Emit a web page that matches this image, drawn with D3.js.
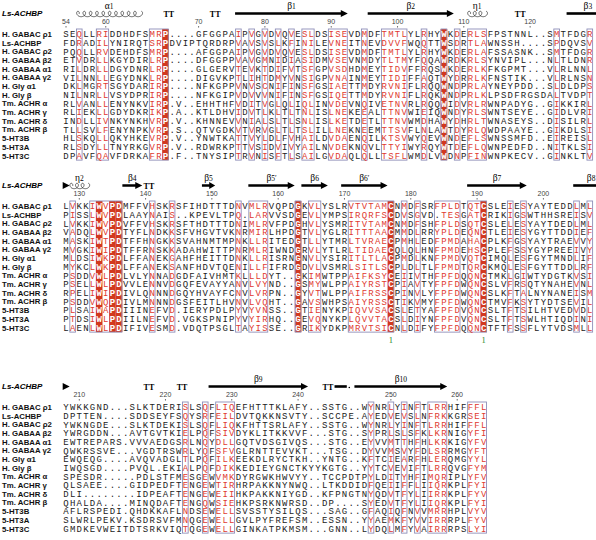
<!DOCTYPE html>
<html><head><meta charset="utf-8">
<script src="https://cdn.jsdelivr.net/npm/d3@7"></script>
<style>body{margin:0;background:#fff}</style></head>
<body><svg id="c" width="596" height="540"></svg>
<script>
const names = ["H. GABAC ρ1","Ls-ACHBP","H. GABAC ρ2","H. GABAA β2","H. GABAA α1","H. GABAA γ2","H. Gly α1","H. Gly β","Tm. ACHR α","Tm. ACHR γ","Tm. ACHR δ","Tm. ACHR β","5-HT3B","5-HT3A","5-HT3C"];
const headerName = "Ls-ACHBP";

const seq1 = [
"SEQLLRIDDHDFSMRP....GFGGPAIPVGVDVQVESLDSISEVDMDFTMTLYLRHYWKDERLSFPSTNNL..SMTFDGR",
"FDRADILYNIRQTSRPDVIPTQRDRPVAVSVSLKFINILEVNEITNEVDVVFWQQTTWSDRTLAWNSSH....SPDQVSV",
"PQQLLRVDEHDFSMRP....AFGGPAIPVGVDVQVESLDSISEVDMDFTMTLYLRHYWKDERLAFSSASNK..SMTFDGR",
"ETVDRLLKGYDIRLRP....DFGGPPVAVGMNIDIASIDMVSEVNMDYTLTMYFQQAWRDKRLSYNVIPL...NLTLDNR",
"RILDRLLDGYDNRLRP....GLGERVTEVKTDIFVTSFGPVSDHDMEYTIDVFFRQSWKDERLKFKGPMT...VLRLNNL",
"VILNNLLEGYDNKLRP....DIGVKPTLIHTDMYVNSIGPVNAINMEYTIDIFFAQTWYDRRLKFNSTIK...VLRLNSN",
"DKLMGRTSGYDARIRP....NFKGPPVNVSCNIFINSFGSIAETTMDYRVNIFLRQQWNDPRLAYNEYPDD..SLDLDPS",
"NILNRLLVSYDPRIRP....NFKGIPVDVVVNIFINSFGSIQETTMDYRVNIFLRQKWNDPRLKLPSDFRGSDALTVDPT",
"RLVANLLENYNKVIRP.V..EHHTHFVDITVGLQLIQLINVDEVNQIVETNVRLRQQWIDVRLRWNPADYG..GIKKIRL",
"RLIEKLLGDYDKRIKP.A..KTLDHVIDVTLKLTLTNLISLNEKEEALTTNVWIEIQWNDYRLSWNTSEYE..GIDLVRI",
"INDLLIVNKYNKHVRP.V..KHNNEVVNIALSLTLSNLISLKETDETLTTNVWMDHAWYDHRLTWNASEYS..DISILRL",
"TLLSVLFENYNPKVRP.S..QTVGDKVTVRVGLTLTSLILLNEKNEEMTTSVFLNLAWTDYRLQWDPAAYE..GIKDLSI",
"HLSKQLLQKYHKEVRP.V..YNWTKATTVYLDLFVHAILDVDAENQILKTSVWYQEVWNDEFLSWNSSMFD..EIREISL",
"RLSDYLLTNYRKGVRP.V..RDWRKPTTVSIDVIVYAILNVDEKNQVLTTYIWYRQYWTDEFLQWNPEDFD..NITKLSI",
"DPAVFQAVFDRKAFRP.F..TNYSIPTRVNISFTLSAILGVDAQLQLLTSFLWMDLVWDNPFINWNPKECV..GINKLTV"];
const seq2 = [
"LVKKIWVPDMFFVHSKRSFIHDTTTDNVMLRVQPDGKVLYSLRVTVTAMCNMDFSRFPLDTQTCSLEIESYAYTEDDLML",
"PISSLWVPDLAAYNAIS..KPEVLTPQ.LARVVSDGEVLYMPSIRQRFSCDVSGVD.TESGATCRIKIGSWTHHSREISV",
"LVKKIWVPDVFFVHSKRSFTHDTTTDNIMLRVFPDGHVLYSMRITVTAMCNMDFSHFPLDSQTCSLELESYAYTDEDLML",
"VADQLWVPDTYFLNDKKSFVHGVTVKNRMIRLHPDGTVLYGLRITTTAACMMDLRRYPLDEQNCTLEIESYGYTTDDIEF",
"MASKIWTPDTFFHNGKKSVAHNMTMPNKLLRITEDGTLLYTMRLTVRAECPMHLEDFPMDAHACPLKFGSYAYTRAEVVY",
"MVGKIWIPDTFFRNSKKADAHWITTPNRMLRIWNDGRVLYTLRLTIDAECQLQLHNFPMDEHSCPLEFSSYGYPREEIVY",
"MLDSIWKPDLFFANEKGAHFHEITTDNKLLRISRNGNVLYSIRITLTLACPMDLKNFPMDVQTCIMQLESFGYTMNDLIF",
"MYKCLWKPDLFFANEKSANFHDVTQENILLFIFRDGDVLVSMRLSITLSCPLDLTLFPMDTQRCKMQLESFGYTTDDLRF",
"PSDDVWLPDLVLYNNADGDFAIVHMTKLLLDYT..GKIMWTPPAIFKSYCEIIVTHFPFDQQNCTMKLGIWTYDGTKVSI",
"PSELLWLPDVVLENNVDGQFEVAYYANVLVYND..GSMYWLPPAIYRSTCPIAVTYFPFDWQNCSLVFRSQTYNAHEVNL",
"RPELIWIPDIVLQNNNDGQYHVAYFCNVLVRPN..GYVTWLPPAIFRSSCPINVLYFPFDWQNCSLKFTALNYNANEISM",
"PSDDVWQPDIVLMNNNDGSFEITLHVNVLVQHT..GAVSWHPSAIYRSSCTIKVMYFPFDWQNCTMVFKSYTYDTSEVIL",
"PLSAIWAPDIIINEFVD.IERYPDLPYVYVNSS..GTIENYKPIQVVSACSLETYAFPFDVQNCSLTFTSILHTVEDVDL",
"PTDSIWLPDIILNEFVD.VGKSPNIPYVYIRHQ..GEVQNYKPLQVVTACSLDIYNFPFDVQNCSLTFTSWLHTIQDINI",
"LAENLWLPDIFIVESMD.VDQTPSGLTAYISSE..GRIKYDKPMRVTSICNLDIFYFPFDQQNCTFTFSSFLYTVDSMLL"];
const seq3 = [
"YWKKGND...SLKTDERISLSQFLIQEFHTTTKLAFY..SSTG..WYNRLYINFTLRRHIFFFL",
"DPTTEN....SDDSEYFSQYSRFEILDVTQKKNSVTY..SCCPE.AYEDVEVSLNFRKKGRSEI",
"YWKNGDE...SLKTDEKISLSQFLIQKFHTTSRLAFY..SSTG..WYNRLYINFTLRRHIFFFL",
"YWRGDDN...AVTGVTKIELPQFSIVDYKLITKKVVF...STG..SYPRLSLSFKLKRNIGYFI",
"EWTREPARS.VVVAEDGSRLNQYDLLGQTVDSGIVQS...STG..EYVVMTTHFHLKRKIGYFV",
"QWKRSSVE...VGDTRSWRLYQFSFVGLRNTTEVVKT...TSG..DYVVMSVYFDLSRRMGYFT",
"EWQEQG....AVQVADGLTLPQFILKEEKDLRYCTKH..YNTG..KFTCIEARFHLERQMGYYL",
"IWQSGD....PVQL.EKIALPQFDIKKEDIEYGNCTKYYKGTG..YYTCVEVIFTLRRQVGFYM",
"SPESDR.....PDLSTFMESGEWVMKDYRGWKHWVYY..TCCPDTPYLDITYHFIMQRIPLYFV",
"QLSAEE....GIDPEDFTENGEWTIRHRPAKKNYNWQ..LTKDDIDFQEIIFFLIIQRKPLFYI",
"DLI........IDPEAFTENGEWEIIHKPAKKNIYGD..KFPNGTNYQDVTFYLIIRRKPLFYV",
"QHALDA....MINQDAFTENGQWSIEHKPSRKNWRSD..DP....SYEDVTFYLIIQRKPLFYI",
"AFLRSPEDI.QHDKKAFLNDSEWELLSVSSTYSILQS...SAG..GFAQIQFNVVMRRHPLVYV",
"SLWRLPEKV.KSDRSVFMNQGEWELLGVLPYFREFSM..ESSN..YYAEMKFYVVIRRRPLFYV",
"GMDKEVWEITDTSRKVIQTQGEWELLGINKATPKMSM...GNN..LYDQLMFYVAIRRRPSLYI"];

const startNum = [54, 128, 208];
const ticks1 = [54,60,70,80,90,100,110,120];
const ticks2 = [130,140,150,160,170,180,190,200];
const ticks3 = [210,220,230,240,250,260];

const cons1 = [15,57];
const box1 = [2,5,6,13,14,26,28,30,32,34,36,37,40,41,42,45,48,49,50,51,54,59,61,62,63,74,79];
const cons2 = [5,7,8,35,49,63];
const box2 = [1,4,6,13,16,26,28,29,30,37,38,43,44,45,46,47,48,51,53,56,57,58,59,61,62,67,69,77,79];
const cons3 = [];
const box3 = [18,21,23,24,25,46,49,51,53,55,56,57,61,62,63];

// secondary structure of Ls-ACHBP: [type, firstCol, lastCol, label]
const ss1 = [["helix",2,11,"α1"],["tt",15,16],["tt",22,23],["strand",26,42,"β1"],["strand",46,58,"β2"],["helix",61,63,"η1"],["tt",68,69],["open",76,79,"β3"]];
const ss2 = [["head",0,0],["helix",1,3,"η2"],["strand",9,11,"β4"],["tt",12,13],["strand",21,22,"β5"],["strand",28,34,"β5′"],["strand",36,39,"β6"],["strand",42,48,"β6′"],["strand",61,69,"β7"],["open",77,79,"β8"]];
const ss3 = [["head",0,0],["tt",12,13],["tt",17,18],["strand",22,36,"β9"],["tt",39,40],["coil",41,42],["strand",44,57,"β10"]];
const disulfide = [49,63];

const RED = "#d2381f", RLET = "#e03a30", BOXC = "#8e8eb8";
const colW = 6.63, left0 = 62.7, rowH = 8.68;
const svg = d3.select("#c");
const xs = d3.scaleLinear().domain([0,80]).range([left0, left0 + 80*colW]);

const blocks = [
  {seqs:seq1, start:startNum[0], ticks:ticks1, cons:cons1, box:box1, ss:ss1, y0:34},
  {seqs:seq2, start:startNum[1], ticks:ticks2, cons:cons2, box:box2, ss:ss2, y0:206},
  {seqs:seq3, start:startNum[2], ticks:ticks3, cons:cons3, box:box3, ss:ss3, y0:407}
];

function helixPath(xa, xb, yc){
  const n = Math.max(1, Math.round((xb-xa)/6.4));
  const per = (xb-xa-3)/n, k = per/(2*Math.PI), d = 2.7;
  const pts = [];
  for (let t = -Math.PI/2; t <= 2*Math.PI*n + 0.01; t += 0.12)
    pts.push([xa + 2 + k*t - d*Math.sin(t), yc - d*Math.cos(t)]);
  return d3.line()(pts);
}

blocks.forEach((b, bi) => {
  const g = svg.append("g");
  const n = b.seqs.length;
  const ys = d3.scaleLinear().domain([0, n-1]).range([b.y0, b.y0 + (n-1)*rowH]);
  const ncol = b.seqs[0].length;
  const top = ys(0) - 5, bot = ys(n-1) + 4.6;

  g.selectAll("rect.cons").data(b.cons).join("rect")
    .attr("x", c => xs(c)).attr("width", colW)
    .attr("y", top).attr("height", bot - top).attr("fill", RED);

  const marked = new Set([...b.box, ...b.cons]);
  const segs = [];
  let s = null;
  for (let c = 0; c <= ncol; c++) {
    if (marked.has(c)) { if (s === null) s = c; }
    else if (s !== null) { segs.push([s, c-1]); s = null; }
  }
  g.selectAll("rect.box").data(segs).join("rect")
    .attr("x", d => xs(d[0]) + 0.5).attr("width", d => xs(d[1]+1) - xs(d[0]) - 1)
    .attr("y", top).attr("height", bot - top)
    .attr("fill", "none").attr("stroke", BOXC).attr("stroke-width", 0.9);

  b.seqs.forEach((sq, r) => {
    g.append("g").selectAll("text").data(sq.split("")).join("text")
      .attr("x", (d,i) => xs(i) + colW/2).attr("y", ys(r) + 3.2)
      .attr("text-anchor", "middle")
      .attr("font-family", "'Liberation Mono', monospace")
      .attr("font-size", 9)
      .attr("font-weight", (d,i) => b.cons.includes(i) ? "bold" : "normal")
      .attr("fill", (d,i) => b.cons.includes(i) ? "#fff" : (b.box.includes(i) && d !== ".") ? RLET : "#222")
      .text(d => d);
  });

  g.append("g").selectAll("text").data(names).join("text")
    .attr("x", 2).attr("y", (d,i) => ys(i) + 3)
    .attr("font-family", "'Liberation Sans', Arial, sans-serif")
    .attr("font-size", 7.8).attr("font-weight", "bold").attr("fill", "#111")
    .text(d => d);

  const tickCols = [];
  let num = b.start;
  b.seqs[0].split("").forEach((ch, c) => {
    if (ch !== ".") { if (b.ticks.includes(num)) tickCols.push([num, c]); num++; }
  });
  g.append("g").selectAll("text").data(tickCols).join("text")
    .attr("x", d => xs(d[1]) + colW/2).attr("y", ys(0) - 10)
    .attr("text-anchor", "middle").attr("font-family", "'Liberation Sans', sans-serif")
    .attr("font-size", 7).attr("fill", "#444").text(d => d[0]);
  g.append("g").selectAll("circle").data(tickCols).join("circle")
    .attr("cx", d => xs(d[1]) + colW/2).attr("cy", ys(0) - 7.2).attr("r", 0.6).attr("fill", "#222");

  g.append("text").attr("x", 2).attr("y", ys(0) - 18.5)
    .attr("font-family", "'Liberation Sans', Arial, sans-serif").attr("font-size", 8)
    .attr("font-weight", "bold").attr("font-style", "italic").text(headerName);

  const yA = ys(0) - 20.5, yL = yA - 5;
  const ssg = g.append("g");
  b.ss.forEach(e => {
    const [type, c1, c2, lab] = e;
    const xa = xs(c1), xb = xs(c2+1);
    if (type === "strand") {
      const hx = Math.min(7, (xb-xa)*0.45);
      ssg.append("path").attr("d", `M${xa},${yA-1.3}L${xb-hx},${yA-1.3}L${xb-hx},${yA-3.6}L${xb},${yA}L${xb-hx},${yA+3.6}L${xb-hx},${yA+1.3}L${xa},${yA+1.3}Z`).attr("fill","#000");
    } else if (type === "open") {
      ssg.append("rect").attr("x", xa).attr("y", yA-1.3).attr("width", 596-xa).attr("height", 2.6).attr("fill","#000");
    } else if (type === "head") {
      ssg.append("path").attr("d", `M${xa},${yA-3.6}L${xa+7},${yA}L${xa},${yA+3.6}Z`).attr("fill","#000");
    } else if (type === "coil") {
      ssg.append("rect").attr("x", xa).attr("y", yA-1.3).attr("width", xb-xa-1).attr("height", 2.6).attr("fill","#000");
      ssg.append("circle").attr("cx", xb+1.5).attr("cy", yA+1).attr("r", 0.8).attr("fill","#000");
    } else if (type === "helix") {
      ssg.append("path").attr("d", helixPath(xa, xb, yA+0.5)).attr("fill","none").attr("stroke","#000").attr("stroke-width",0.6);
    } else if (type === "tt") {
      ssg.append("text").attr("x", (xa+xb)/2).attr("y", yA+3).attr("text-anchor","middle")
        .attr("font-family","'Liberation Serif', serif").attr("font-size",8).attr("font-weight","bold").text("TT");
    }
    if (lab) {
      const t = ssg.append("text").attr("x", (xa+xb)/2 + (type === "open" ? 8 : 0)).attr("y", yL).attr("text-anchor","middle")
        .attr("font-family","'Liberation Serif', serif").attr("font-size",9.5);
      t.append("tspan").text(lab[0]);
      t.append("tspan").attr("font-size",7.5).text(lab.slice(1));
    }
  });

  if (bi === 1) {
    g.append("g").selectAll("text").data(disulfide).join("text")
      .attr("x", c => xs(c) + colW/2).attr("y", bot + 11).attr("text-anchor","middle")
      .attr("font-family","'Liberation Serif', serif").attr("font-size",8.5).attr("fill","#2a8a2a").text("1");
  }
});
</script></body></html>
